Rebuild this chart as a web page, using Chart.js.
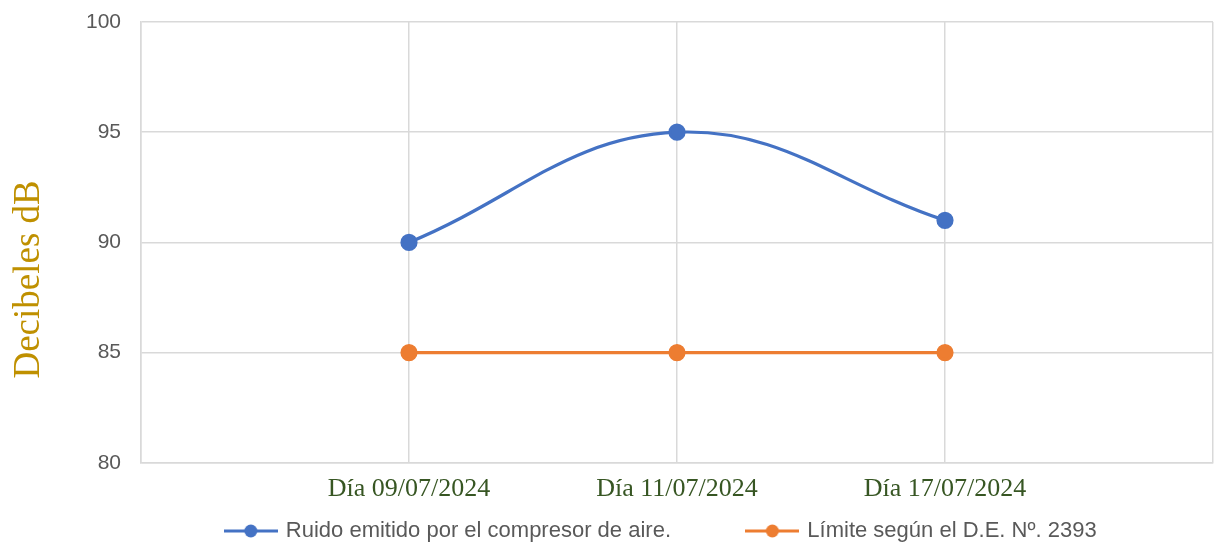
<!DOCTYPE html>
<html>
<head>
<meta charset="utf-8">
<script src="https://cdn.jsdelivr.net/npm/chart.js@4"></script>
<style>
  html, body { margin: 0; padding: 0; background: #fff; }
  #wrap { width: 1214px; height: 545px; }
</style>
</head>
<body>
<div id="wrap"><canvas id="chart" width="1214" height="545"></canvas></div>
<script>
// categories (blank slots at both ends, like the original axis)
const categories = ["", "Día 09/07/2024", "Día 11/07/2024", "Día 17/07/2024", ""];
const ruido = [null, 90, 95, 91, null];
const limite = [null, 85, 85, 85, null];
const seriesNames = ["Ruido emitido por el compresor de aire.", "Límite según el D.E. Nº. 2393"];
const yTicks = [80, 85, 90, 95, 100];

const BLUE = "#4472C4";
const ORANGE = "#ED7D31";
const NBSP = "\u00a0";

// legend marker: short line with a dot in the middle
function legendMarker(color) {
  const c = document.createElement("canvas");
  c.width = 54; c.height = 16;
  const g = c.getContext("2d");
  g.strokeStyle = color;
  g.lineWidth = 3;
  g.beginPath(); g.moveTo(0, 8); g.lineTo(54, 8); g.stroke();
  g.fillStyle = color;
  g.beginPath(); g.arc(27, 8, 6.5, 0, Math.PI * 2); g.fill();
  return c;
}
const markers = [legendMarker(BLUE), legendMarker(ORANGE)];
// extra room after each legend entry (spacing as in the original)
const legendTail = [12, 5];

new Chart(document.getElementById("chart"), {
  type: "line",
  data: {
    labels: categories,
    datasets: [
      {
        label: seriesNames[0],
        data: ruido,
        borderColor: BLUE,
        backgroundColor: BLUE,
        borderWidth: 3.2,
        pointRadius: 7,
        pointHoverRadius: 7,
        tension: 0.4
      },
      {
        label: seriesNames[1],
        data: limite,
        borderColor: ORANGE,
        backgroundColor: ORANGE,
        borderWidth: 3.2,
        pointRadius: 7,
        pointHoverRadius: 7,
        tension: 0
      }
    ]
  },
  options: {
    responsive: false,
    animation: false,
    layout: { autoPadding: false, padding: { top: 22, right: 1, left: 0, bottom: -7 } },
    plugins: {
      tooltip: { enabled: false },
      legend: {
        position: "bottom",
        fullSize: false,
        labels: {
          usePointStyle: true,
          pointStyleWidth: 48,
          padding: 4,
          color: "#595959",
          font: { family: "'Liberation Sans', Arial, sans-serif", size: 22 },
          generateLabels(chart) {
            return chart.data.datasets.map((ds, i) => ({
              text: ds.label + NBSP.repeat(legendTail[i]),
              fillStyle: ds.borderColor,
              strokeStyle: ds.borderColor,
              lineWidth: 0,
              pointStyle: markers[i],
              fontColor: "#595959",
              hidden: false,
              datasetIndex: i
            }));
          }
        }
      }
    },
    scales: {
      x: {
        afterFit(axis) { axis.paddingLeft = 0; axis.paddingRight = 0; },
        grid: { color: "#d9d9d9", lineWidth: 1.5, drawTicks: false },
        border: { color: "#d9d9d9", width: 1.5 },
        ticks: {
          autoSkip: false,
          maxRotation: 0,
          padding: 11,
          color: "#375623",
          font: { family: "'Liberation Serif', 'Times New Roman', serif", size: 26 }
        }
      },
      y: {
        min: 80,
        max: 100,
        afterBuildTicks(axis) { axis.ticks = yTicks.map(v => ({ value: v })); },
        afterFit(axis) { axis.width = 141; axis.paddingTop = 0; axis.paddingBottom = 0; },
        grid: { color: "#d9d9d9", lineWidth: 1.5, drawTicks: false },
        border: { color: "#d9d9d9", width: 1.5 },
        ticks: {
          padding: 20,
          color: "#595959",
          font: { family: "'Liberation Sans', Arial, sans-serif", size: 21 }
        },
        title: {
          display: true,
          text: "Decibeles dB" + NBSP.repeat(8),
          color: "#BF9000",
          padding: { top: 7, bottom: 0 },
          font: { family: "'Liberation Serif', 'Times New Roman', serif", size: 37 }
        }
      }
    }
  }
});
</script>
</body>
</html>
